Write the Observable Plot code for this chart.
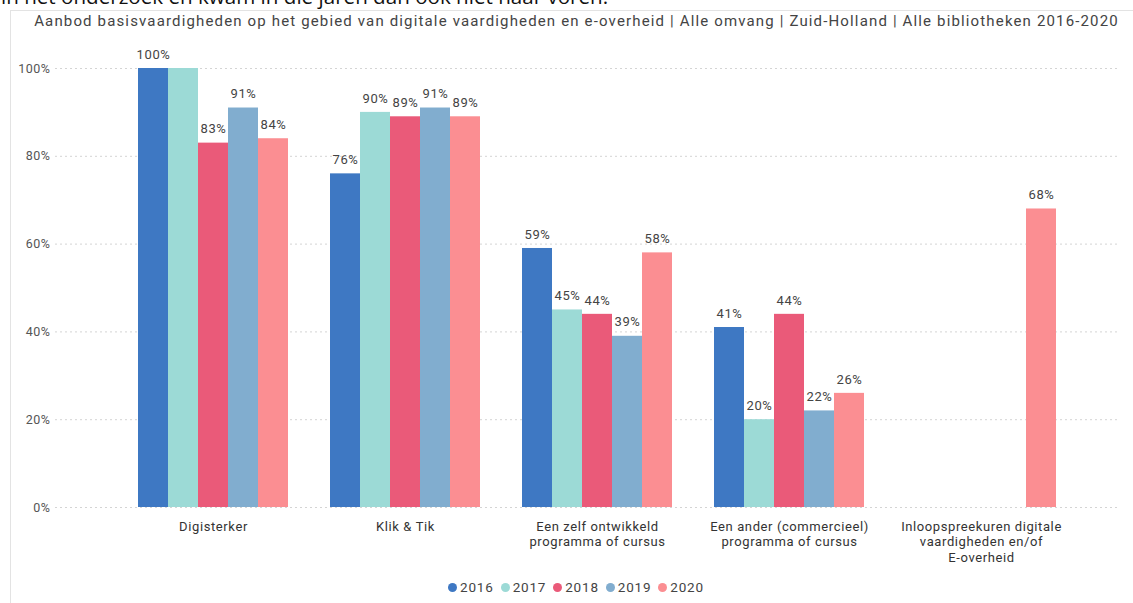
<!DOCTYPE html>
<html>
<head>
<meta charset="utf-8">
<script src="https://cdn.jsdelivr.net/npm/d3@7"></script>
<script src="https://cdn.jsdelivr.net/npm/@observablehq/plot@0.6"></script>
<style>
  html, body { margin: 0; padding: 0; background: #fff; overflow: hidden; }
  #wrap { position: relative; width: 1133px; height: 603px; overflow: hidden; font-family: Roboto, "DejaVu Sans", sans-serif; }
  #intro { position: absolute; left: 1px; top: -16px; font-family: "Open Sans", sans-serif; font-size: 20.6px; color: #111; white-space: nowrap; line-height: 24px; }
  #panel { position: absolute; left: 10px; top: 10px; width: 1140px; height: 620px; border-left: 1px solid #e3e3e3; border-top: 1px solid #e3e3e3; }
  #title { position: absolute; left: 10px; width: 1133px; top: 12px; text-align: center; font-size: 15px; letter-spacing: 1.15px; color: #444; white-space: nowrap; line-height: 18px; }
  .chart { position: absolute; left: 0; top: 40px; }
  #legend { position: absolute; left: 0; width: 1133px; top: 579px; display: flex; justify-content: center; gap: 7px; font-size: 13.5px; letter-spacing: 0.8px; color: #444; line-height: 16px; padding-left: 19px; box-sizing: border-box; }
  #legend span.item { display: inline-flex; align-items: center; }
  #legend span.dot { display: inline-block; width: 9px; height: 9px; border-radius: 50%; margin-right: 3px; }
</style>
</head>
<body>
<div id="wrap">
  <div id="intro">in het onderzoek en kwam in die jaren dan ook niet naar voren.</div>
  <div id="panel"></div>
  <div id="title">Aanbod basisvaardigheden op het gebied van digitale vaardigheden en e-overheid | Alle omvang | Zuid-Holland | Alle bibliotheken 2016-2020</div>
  <div id="grid" class="chart"></div>
  <div id="bars" class="chart"></div>
  <div id="legend"></div>
</div>
<script>
const categories = [
  "Digisterker",
  "Klik & Tik",
  "Een zelf ontwikkeld\nprogramma of cursus",
  "Een ander (commercieel)\nprogramma of cursus",
  "Inloopspreekuren digitale\nvaardigheden en/of\nE-overheid"
];
const years = ["2016", "2017", "2018", "2019", "2020"];
const values2016 = [100, 76, 59, 41, null];
const values2017 = [100, 90, 45, 20, null];
const values2018 = [83, 89, 44, 44, null];
const values2019 = [91, 91, 39, 22, null];
const values2020 = [84, 89, 58, 26, 68];
const yTicks = [0, 20, 40, 60, 80, 100];
const colors = ["#3E78C3", "#9CDAD6", "#EA5A79", "#81ADCF", "#FB8E92"];
const hiddenLabels = [["Digisterker", "2017"]];

const series = [values2016, values2017, values2018, values2019, values2020];
const data = [];
categories.forEach((c, i) => {
  years.forEach((y, j) => {
    const v = series[j][i];
    if (v != null) data.push({category: c, year: y, value: v});
  });
});
const labelData = data.filter(d => !hiddenLabels.some(([c, y]) => c === d.category && y === d.year));

const W = 1133, H = 530, MT = 28, MB = 63;
const fontFamily = "Roboto, 'DejaVu Sans', sans-serif";

const grid = Plot.plot({
  width: W, height: H,
  marginTop: MT, marginBottom: MB, marginLeft: 55, marginRight: 13,
  style: {fontFamily, fontSize: "12.5px", letterSpacing: "0.5px", color: "#555", background: "transparent"},
  y: {domain: [0, 100], ticks: yTicks, tickFormat: d => d + "%", tickSize: 0, tickPadding: 5, label: null},
  marks: [
    Plot.ruleY(yTicks, {stroke: "#d4d4d4", strokeDasharray: "2,3", strokeWidth: 1})
  ]
});
document.getElementById("grid").appendChild(grid);

const bars = Plot.plot({
  width: W, height: H,
  marginTop: MT, marginBottom: MB, marginLeft: 116, marginRight: 56,
  style: {fontFamily, fontSize: "12px", letterSpacing: "0.6px", color: "#444", background: "transparent"},
  fx: {domain: categories, padding: 0, axis: null, label: null},
  x: {domain: years, paddingInner: 0, paddingOuter: 0.7, axis: null},
  y: {domain: [0, 100], axis: null},
  color: {domain: years, range: colors},
  marks: [
    Plot.barY(data, {fx: "category", x: "year", y: "value", fill: "year"}),
    Plot.text(labelData, {fx: "category", x: "year", y: "value", text: d => d.value + "%", dy: -14, fill: "#444", fontSize: 13}),
    Plot.text(categories, {fx: d => d, text: d => d, frameAnchor: "bottom", lineAnchor: "top", dy: 12, lineHeight: 1.2, fill: "#333", fontSize: 13})
  ]
});
document.getElementById("bars").appendChild(bars);

const legend = document.getElementById("legend");
years.forEach((y, j) => {
  const item = document.createElement("span");
  item.className = "item";
  const dot = document.createElement("span");
  dot.className = "dot";
  dot.style.background = colors[j];
  item.appendChild(dot);
  item.appendChild(document.createTextNode(y));
  legend.appendChild(item);
});
</script>
</body>
</html>
